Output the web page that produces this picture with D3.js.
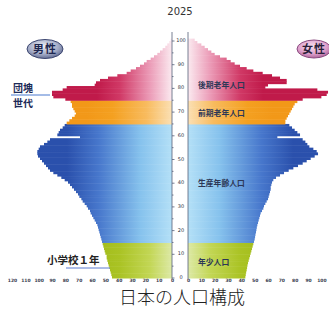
<!DOCTYPE html>
<html>
<head>
<meta charset="utf-8">
<script src="https://cdn.jsdelivr.net/npm/d3@7"></script>
<style>
  body { margin: 0; background: #fff; }
  svg { display: block; }
</style>
</head>
<body>
<svg id="chart" width="329" height="309"></svg>
<script>
// population by single year of age, 0..100 (万人)
const male = [
  45, 45.5, 46, 46.5, 47, 47.5, 48, 48.5, 49, 49,
  50, 50.5, 51, 51.5, 52, 52.5, 53, 53.5, 54, 54.5,
  55, 55.5, 56, 57, 58, 59, 60, 61, 61.5, 63,
  64, 65.5, 67, 68, 69.5, 70.5, 72, 73.5, 75, 76.5,
  78, 80.5, 83, 86, 89, 91.5, 93, 94.5, 96, 97.5,
  99, 100.5, 101, 101, 100, 99, 96, 93.5, 91.5, 69,
  86, 85, 84, 82, 80.5, 79, 77, 75, 73, 72,
  73, 74, 75, 75, 76, 80, 89, 90, 90, 82,
  79, 58, 57, 54, 48, 41, 34, 31, 27, 24,
  21, 19, 16, 13.5, 11, 9, 7, 5, 3.5, 2,
  1
];
const female = [
  43, 43.3, 43.6, 44, 44.3, 44.6, 45, 45.5, 46, 46.5,
  47, 47.5, 48, 48.5, 49, 49.5, 50, 50.3, 50.6, 51,
  51.3, 51.6, 52, 52.5, 53, 53.5, 54, 54.5, 55.5, 56.5,
  57, 58, 59, 60, 60.5, 61, 61.5, 62, 62, 62.5,
  63, 64, 66, 69, 72, 75.5, 79, 82.5, 86, 89,
  92, 95, 97.5, 96.5, 94, 91, 89.5, 88, 86, 67,
  84, 82, 80, 78, 76, 73, 73, 74, 75, 76,
  77, 78, 79, 80, 82, 86, 100, 104, 105, 97,
  58, 60, 74, 74, 69, 63, 56, 49, 44, 39,
  35, 32, 29, 24, 20, 17.5, 15, 12.5, 10, 7,
  5
];
const ageTicks = [0, 10, 20, 30, 40, 50, 60, 70, 80, 90, 100];
const leftTicks = [120, 110, 100, 90, 80, 70, 60, 50, 40, 30, 20, 10, 0];
const rightTicks = [0, 10, 20, 30, 40, 50, 60, 70, 80, 90, 100];
const groups = [
  { name: "年少人口", from: 0, to: 14, label: 262 },
  { name: "生産年齢人口", from: 15, to: 64, label: 183 },
  { name: "前期老年人口", from: 65, to: 74, label: 113 },
  { name: "後期老年人口", from: 75, to: 100, label: 85 }
];
const groupColors = {
  "年少人口": ["#dde9a6", "#c2d654", "#aac324", "#a2bc1a"],
  "生産年齢人口": ["#b4e0f7", "#86c2ed", "#4777cc", "#2a50ac"],
  "前期老年人口": ["#fbe0b4", "#f8bb5e", "#f4a020", "#f29818"],
  "後期老年人口": ["#fbeaf0", "#eb9ab6", "#d03865", "#c01a4a"]
};
// how far out (px) each colour ramp runs
const rampLength = { "年少人口": 75, "生産年齢人口": 105, "前期老年人口": 85, "後期老年人口": 75 };

const svg = d3.select("#chart");
const leftX = 172, rightX = 188;
const jp = "Noto Sans CJK JP";

const xL = d3.scaleLinear().domain([0, 120]).range([leftX, leftX - 160]);
const xR = d3.scaleLinear().domain([0, 110]).range([rightX, rightX + 146.7]);
const y = d3.scaleLinear().domain([0, 100]).range([278, 41]);

function groupOf(age) {
  return groups.find(g => age >= g.from && age <= g.to);
}

// gradients, light next to the axis, dark outside
const defs = svg.append("defs");
groups.forEach((g, i) => {
  const len = rampLength[g.name];
  [["L", leftX, leftX - len], ["R", rightX, rightX + len]].forEach(([side, x1, x2]) => {
    const grad = defs.append("linearGradient")
      .attr("id", `g${i}${side}`)
      .attr("gradientUnits", "userSpaceOnUse")
      .attr("x1", x1).attr("x2", x2).attr("y1", 0).attr("y2", 0);
    const c = groupColors[g.name];
    [0, 0.3, 0.7, 1].forEach((o, k) => grad.append("stop").attr("offset", o).attr("stop-color", c[k]));
  });
});

const pillM = defs.append("radialGradient").attr("id", "pillM").attr("cx", "45%").attr("cy", "35%").attr("r", "70%");
pillM.append("stop").attr("offset", 0).attr("stop-color", "#eef0f6");
pillM.append("stop").attr("offset", 0.6).attr("stop-color", "#a3abc6");
pillM.append("stop").attr("offset", 1).attr("stop-color", "#56618a");
const pillF = defs.append("radialGradient").attr("id", "pillF").attr("cx", "45%").attr("cy", "35%").attr("r", "70%");
pillF.append("stop").attr("offset", 0).attr("stop-color", "#f8e0f0");
pillF.append("stop").attr("offset", 0.6).attr("stop-color", "#dea0cc");
pillF.append("stop").attr("offset", 1).attr("stop-color", "#a55a90");

const ages = d3.range(male.length);

svg.append("g").selectAll("rect")
  .data(ages)
  .join("rect")
  .attr("x", a => xL(male[a]))
  .attr("y", a => y(a + 1))
  .attr("width", a => leftX - xL(male[a]))
  .attr("height", a => y(a) - y(a + 1) + 0.5)
  .attr("fill", a => `url(#g${groups.indexOf(groupOf(a))}L)`);

svg.append("g").selectAll("rect")
  .data(ages)
  .join("rect")
  .attr("x", rightX)
  .attr("y", a => y(a + 1))
  .attr("width", a => xR(female[a]) - rightX)
  .attr("height", a => y(a) - y(a + 1) + 0.5)
  .attr("fill", a => `url(#g${groups.indexOf(groupOf(a))}R)`);

// centre age axis
const axisG = svg.append("g").attr("stroke", "#55607a").attr("stroke-width", 0.8);
axisG.append("line").attr("x1", leftX).attr("x2", leftX).attr("y1", 32).attr("y2", 279);
axisG.append("line").attr("x1", rightX).attr("x2", rightX).attr("y1", 32).attr("y2", 279);
axisG.selectAll(".tk")
  .data(d3.range(0, 101, 5))
  .join("line")
  .attr("x1", leftX).attr("x2", a => leftX + (a % 10 === 0 ? 2.5 : 1.5))
  .attr("y1", a => y(a)).attr("y2", a => y(a));

svg.append("g").selectAll("text")
  .data(ageTicks)
  .join("text")
  .attr("x", (leftX + rightX) / 2 + 1)
  .attr("y", a => y(a) + 1)
  .attr("text-anchor", "middle")
  .attr("font-family", "DejaVu Sans, sans-serif")
  .attr("font-size", 5)
  .attr("fill", "#2a3040")
  .text(a => a);

// bottom scale
const axisBL = d3.axisBottom(xL).tickValues(leftTicks).tickSize(0).tickPadding(0);
const axisBR = d3.axisBottom(xR).tickValues(rightTicks).tickSize(0).tickPadding(0);
[axisBL, axisBR].forEach(ax => {
  const g = svg.append("g").attr("transform", "translate(0,278.5)").call(ax);
  g.select(".domain").remove();
  g.selectAll("text")
    .attr("font-family", "DejaVu Sans, sans-serif")
    .attr("font-size", 4.5)
    .attr("font-weight", "bold")
    .attr("fill", "#3a4050");
});

// group labels on the female side
svg.append("g").selectAll("text")
  .data(groups)
  .join("text")
  .attr("x", 198)
  .attr("y", g => g.label + 3)
  .attr("font-family", jp)
  .attr("font-size", 7.8)
  .attr("font-weight", "bold")
  .attr("fill", "#2c3756")
  .text(g => g.name);

svg.append("text").attr("x", 180).attr("y", 15).attr("text-anchor", "middle")
  .attr("font-family", "DejaVu Sans, sans-serif").attr("font-size", 10).attr("fill", "#333")
  .text("2025");

// pills
svg.append("ellipse").attr("cx", 45).attr("cy", 49).attr("rx", 18).attr("ry", 9.5)
  .attr("fill", "url(#pillM)").attr("stroke", "#3c4670").attr("stroke-width", 1);
svg.append("text").attr("x", 45).attr("y", 53).attr("text-anchor", "middle")
  .attr("font-family", jp).attr("font-size", 11).attr("font-weight", "bold").attr("fill", "#1e2750")
  .attr("letter-spacing", 1).text("男性");
svg.append("ellipse").attr("cx", 314).attr("cy", 49).attr("rx", 17).attr("ry", 9)
  .attr("fill", "url(#pillF)").attr("stroke", "#8a4a80").attr("stroke-width", 1);
svg.append("text").attr("x", 314).attr("y", 53).attr("text-anchor", "middle")
  .attr("font-family", jp).attr("font-size", 11).attr("font-weight", "bold").attr("fill", "#2a1f3a")
  .attr("letter-spacing", 1).text("女性");

// 団塊世代
svg.append("text").attr("x", 13).attr("y", 91.5)
  .attr("font-family", jp).attr("font-size", 10).attr("font-weight", "bold").attr("fill", "#1c2a58")
  .text("団塊");
svg.append("text").attr("x", 13).attr("y", 106.5)
  .attr("font-family", jp).attr("font-size", 10).attr("font-weight", "bold").attr("fill", "#1c2a58")
  .text("世代");
svg.append("line").attr("x1", 11).attr("x2", 50).attr("y1", 95).attr("y2", 95)
  .attr("stroke", "#4a7ad0").attr("stroke-width", 1.2);

// 小学校1年
svg.append("text").attr("x", 47).attr("y", 264)
  .attr("font-family", jp).attr("font-size", 10.5).attr("font-weight", "bold").attr("fill", "#222")
  .text("小学校１年");
svg.append("line").attr("x1", 66).attr("x2", 110).attr("y1", 268).attr("y2", 268)
  .attr("stroke", "#5a7ad0").attr("stroke-width", 1);

// title
svg.append("text").attr("x", 182).attr("y", 303.5).attr("text-anchor", "middle")
  .attr("font-family", jp).attr("font-size", 18).attr("font-weight", 300).attr("fill", "#222")
  .text("日本の人口構成");
</script>
</body>
</html>
